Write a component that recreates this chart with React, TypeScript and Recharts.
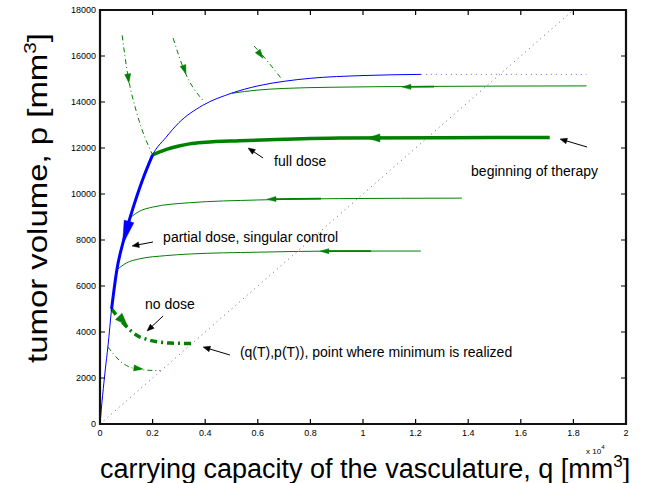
import React from 'react';
import { ComposedChart, Line, Scatter, XAxis, YAxis } from 'recharts';

// q in units of 10^4 mm^3, p in mm^3
const xTicks = [0, 0.2, 0.4, 0.6, 0.8, 1, 1.2, 1.4, 1.6, 1.8, 2];
const yTicks = [0, 2000, 4000, 6000, 8000, 10000, 12000, 14000, 16000, 18000];

// singular arc (blue)
const singularQ = [0, 0.01, 0.02, 0.03, 0.044, 0.064, 0.09, 0.114, 0.14, 0.163, 0.2, 0.25, 0.3, 0.39, 0.5, 0.6, 0.7, 0.8, 1.0, 1.22];
const singularP = [0, 1250, 2350, 3350, 5000, 6700, 8000, 8960, 9900, 10650, 11700, 12450, 13100, 13850, 14380, 14700, 14900, 15030, 15150, 15200];
const singularTail = [[1.22, 15200], [1.85, 15200]];

// trajectories under therapy (green, solid)
const fullDose = [[0.2, 11700], [0.25, 11930], [0.3, 12090], [0.34, 12180], [0.4, 12250], [0.53, 12320], [0.7, 12380], [0.91, 12430], [1.3, 12450], [1.71, 12455]];
const topTraj = [[0.5, 14380], [0.6, 14520], [0.7, 14590], [0.875, 14640], [1.2, 14675], [1.85, 14700]];
const midTraj = [[0.114, 8960], [0.15, 9250], [0.2, 9430], [0.34, 9620], [0.6, 9740], [0.91, 9800], [1.376, 9820]];
const lowTraj = [[0.064, 6700], [0.1, 7000], [0.15, 7180], [0.25, 7320], [0.34, 7390], [0.6, 7470], [0.91, 7520], [1.22, 7520]];

// no-dose pieces (green, dash-dot)
const noDose1 = [[0.084, 16900], [0.107, 15090], [0.14, 13520], [0.2, 11700]];
const noDose2 = [[0.278, 16780], [0.323, 15300], [0.39, 14090]];
const noDose3 = [[0.586, 16430], [0.617, 16040], [0.688, 15040]];
const noDoseEnd = [[0.044, 5000], [0.088, 4390], [0.152, 3780], [0.266, 3520], [0.35, 3500]];
const noDoseLow = [[0.03, 3350], [0.08, 2700], [0.125, 2430], [0.18, 2340], [0.23, 2320]];

// p = q line
const diagonal = [[0, 0], [1.8, 18000]];

// arrow heads: tip and a point behind it on the curve
const smallTrajArrows = [
  { q: 1.148, p: 14655, tq: 1.27, tp: 14665 },
  { q: 0.635, p: 9775, tq: 0.84, tp: 9800 },
  { q: 0.836, p: 7515, tq: 1.03, tp: 7520 },
];
const fullDoseArrows = [{ q: 1.015, p: 12435, tq: 1.1, tp: 12440 }];
const singularArrows = [{ q: 0.086, p: 7800, tq: 0.114, tp: 8960 }];
const dashArrows = [
  { q: 0.11, p: 14830, tq: 0.084, tp: 16900 },
  { q: 0.327, p: 15220, tq: 0.278, tp: 16780 },
  { q: 0.62, p: 15900, tq: 0.586, tp: 16430 },
  { q: 0.163, p: 2390, tq: 0.1, tp: 2480 },
];
const noDoseArrows = [{ q: 0.103, p: 4300, tq: 0.044, tp: 5000 }];

// annotations
const noteArrows = [
  { q: 0.563, p: 12000, tq: 0.62, tp: 11565 },
  { q: 1.749, p: 12391, tq: 1.852, tp: 12043 },
  { q: 0.1217, p: 7739, tq: 0.2015, tp: 7913 },
  { q: 0.179, p: 4043, tq: 0.24, tp: 4696 },
  { q: 0.392, p: 3348, tq: 0.494, tp: 3000 },
];
const noteTexts = [
  { q: 0.662, p: 11217, text: 'full dose' },
  { q: 1.411, p: 10783, text: 'beginning of therapy' },
  { q: 0.24, p: 7913, text: 'partial dose, singular control' },
  { q: 0.171, p: 5000, text: 'no dose' },
  { q: 0.532, p: 2913, text: '(q(T),p(T)), point where minimum is realized' },
];

const W = 651;
const H = 483;
const M = { top: 10, right: 25, bottom: 58, left: 99 };
const PW = 526;
const PH = 414;
const KX = PW / 2;
const KY = PH / 18000;
const FONT = '"Liberation Sans", Arial, Helvetica, sans-serif';
const GREEN = '#008000';
const BLUE = '#0000ff';

const pts = (arr: number[][]) => arr.map(([q, p]) => ({ q, p }));
const singular = singularQ.map((q, i) => ({ q, p: singularP[i] }));
const singularThick = singular.filter((d) => d.q >= 0.044 && d.q <= 0.2);

const arrowShape = (head: number, half: number, color: string, shaft: number) => (props: any) => {
  const { cx, cy, payload } = props;
  const dx = (payload.tq - payload.q) * KX;
  const dy = -(payload.tp - payload.p) * KY;
  const len = Math.hypot(dx, dy) || 1;
  const ux = dx / len;
  const uy = dy / len;
  const bx = cx + ux * head;
  const by = cy + uy * head;
  return (
    <g>
      {shaft > 0 && (
        <line x1={cx + ux * head * 0.6} y1={cy + uy * head * 0.6} x2={cx + dx} y2={cy + dy} stroke={color} strokeWidth={shaft} />
      )}
      <polygon
        points={`${cx},${cy} ${bx - uy * half},${by + ux * half} ${bx + uy * half},${by - ux * half}`}
        fill={color}
        stroke={color}
        strokeWidth={0.5}
      />
    </g>
  );
};

const textShape = (props: any) => (
  <text x={props.cx} y={props.cy} fontSize={14} fontFamily={FONT} fill="#000">
    {props.payload.text}
  </text>
);

// MATLAB-style inward ticks on all four sides of the box
const LeftTick = ({ x, y, payload }: any) => (
  <g>
    <text x={x - 4} y={y + 3} textAnchor="end" fontSize={9} fontFamily={FONT} fill="#000">{payload.value}</text>
    <path d={`M${x},${y}h5M${x + PW},${y}h-5`} stroke="#000" strokeWidth={1.2} fill="none" />
  </g>
);
const BottomTick = ({ x, y, payload }: any) => (
  <g>
    <text x={x} y={y + 12} textAnchor="middle" fontSize={9} fontFamily={FONT} fill="#000">{payload.value}</text>
    <path d={`M${x},${y}v-5M${x},${y - PH}v5`} stroke="#000" strokeWidth={1.2} fill="none" />
  </g>
);

export default function App() {
  return (
    <div style={{ position: 'absolute', left: 0, top: 0, width: W, height: H, background: '#fff' }}>
      <ComposedChart width={W} height={H} margin={M}>
        <XAxis dataKey="q" type="number" domain={[0, 2]} ticks={xTicks} interval={0} height={1}
          tickSize={0} tickMargin={0} axisLine={false} tickLine={false} tick={<BottomTick />} allowDataOverflow />
        <YAxis dataKey="p" type="number" domain={[0, 18000]} ticks={yTicks} interval={0} width={1}
          tickSize={0} tickMargin={0} axisLine={false} tickLine={false} tick={<LeftTick />} allowDataOverflow />

        <Line data={pts(diagonal)} dataKey="p" type="linear" stroke="#666" strokeWidth={1} strokeDasharray="1 4" dot={false} activeDot={false} isAnimationActive={false} />
        <Line data={pts(singularTail)} dataKey="p" type="linear" stroke="#7070ff" strokeWidth={1} strokeDasharray="1 4" dot={false} activeDot={false} isAnimationActive={false} />

        <Line data={pts(topTraj)} dataKey="p" type="monotone" stroke={GREEN} strokeWidth={1} dot={false} activeDot={false} isAnimationActive={false} />
        <Line data={pts(midTraj)} dataKey="p" type="monotone" stroke={GREEN} strokeWidth={1} dot={false} activeDot={false} isAnimationActive={false} />
        <Line data={pts(lowTraj)} dataKey="p" type="monotone" stroke={GREEN} strokeWidth={1} dot={false} activeDot={false} isAnimationActive={false} />
        <Line data={pts(fullDose)} dataKey="p" type="monotone" stroke={GREEN} strokeWidth={3.5} dot={false} activeDot={false} isAnimationActive={false} />

        <Line data={pts(noDose1)} dataKey="p" type="monotone" stroke={GREEN} strokeWidth={1} strokeDasharray="5 3 1 3" dot={false} activeDot={false} isAnimationActive={false} />
        <Line data={pts(noDose2)} dataKey="p" type="monotone" stroke={GREEN} strokeWidth={1} strokeDasharray="5 3 1 3" dot={false} activeDot={false} isAnimationActive={false} />
        <Line data={pts(noDose3)} dataKey="p" type="monotone" stroke={GREEN} strokeWidth={1} strokeDasharray="5 3 1 3" dot={false} activeDot={false} isAnimationActive={false} />
        <Line data={pts(noDoseLow)} dataKey="p" type="monotone" stroke={GREEN} strokeWidth={1} strokeDasharray="5 3 1 3" dot={false} activeDot={false} isAnimationActive={false} />
        <Line data={pts(noDoseEnd)} dataKey="p" type="monotone" stroke={GREEN} strokeWidth={3.5} strokeDasharray="7 4 2 4" dot={false} activeDot={false} isAnimationActive={false} />

        <Line data={singular} dataKey="p" type="monotone" stroke={BLUE} strokeWidth={1} dot={false} activeDot={false} isAnimationActive={false} />
        <Line data={singularThick} dataKey="p" type="monotone" stroke={BLUE} strokeWidth={3} dot={false} activeDot={false} isAnimationActive={false} />

        <Scatter data={smallTrajArrows} dataKey="p" shape={arrowShape(9, 2.5, GREEN, 1.8)} isAnimationActive={false} />
        <Scatter data={fullDoseArrows} dataKey="p" shape={arrowShape(13, 4, GREEN, 0)} isAnimationActive={false} />
        <Scatter data={singularArrows} dataKey="p" shape={arrowShape(24, 5, BLUE, 0)} isAnimationActive={false} />
        <Scatter data={dashArrows} dataKey="p" shape={arrowShape(9, 3, GREEN, 0)} isAnimationActive={false} />
        <Scatter data={noDoseArrows} dataKey="p" shape={arrowShape(12, 4.5, GREEN, 0)} isAnimationActive={false} />
        <Scatter data={noteArrows} dataKey="p" shape={arrowShape(7, 2.8, '#000', 1)} isAnimationActive={false} />
        <Scatter data={noteTexts} dataKey="p" shape={textShape} isAnimationActive={false} />
      </ComposedChart>

      <svg width={W} height={H} style={{ position: 'absolute', left: 0, top: 0, pointerEvents: 'none' }}>
        {/* axes box */}
        <path d={`M${M.left + 1},${M.top}h${PW}v${PH}h${-PW}z`} fill="none" stroke="#111" strokeWidth={2.2} />
        <text transform="translate(47,363) rotate(-90) scale(1.22,1)" fontSize={27} fontFamily={FONT} fill="#000">
          tumor volume, p [mm<tspan dy={-11} fontSize={17}>3</tspan><tspan dy={11}>]</tspan>
        </text>
        <text x={100} y={478} fontSize={27} fontFamily={FONT} fill="#000">
          carrying capacity of the vasculature, q [mm<tspan dy={-11} fontSize={17}>3</tspan><tspan dy={11}>]</tspan>
        </text>
        <text x={586} y={454} fontSize={8} fontFamily={FONT} fill="#000">
          x 10<tspan dy={-5} fontSize={6}>4</tspan>
        </text>
      </svg>
    </div>
  );
}
